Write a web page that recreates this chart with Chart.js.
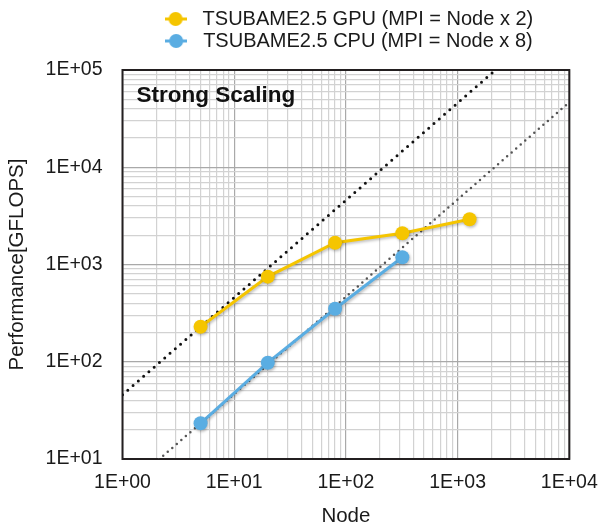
<!DOCTYPE html>
<html>
<head>
<meta charset="utf-8">
<script src="https://cdn.jsdelivr.net/npm/chart.js@4.4.0/dist/chart.umd.min.js"></script>
<style>
  html, body { margin: 0; padding: 0; background: #fff; }
  #wrap { width: 600px; height: 529px; }
</style>
</head>
<body>
<div id="wrap"><canvas id="myChart" width="600" height="529"></canvas></div>
<script>
// node counts (x) and measured performance (y, GFLOPS)
var nodes = [5, 20, 80, 320, 1280];
var gpuPerf = [229, 750, 1675, 2094, 2915];
var cpuPerf = [23.3, 97.8, 351, 1186];

// ideal scaling guides, read at the left and right plot edges
var idealX = [1, 10000];
var idealGpu = [45.8, 458000];
var idealCpu = [4.66, 46600];

// decade ticks and their labels
var xDecades = [1, 10, 100, 1000, 10000];
var xTickLabels = ['1E+00', '1E+01', '1E+02', '1E+03', '1E+04'];
var yDecades = [10, 100, 1000, 10000, 100000];
var yTickLabels = ['1E+01', '1E+02', '1E+03', '1E+04', '1E+05'];
var minorSteps = [1, 2, 3, 4, 5, 6, 7, 8, 9];

var gpuLabel = 'TSUBAME2.5 GPU (MPI = Node x 2)';
var cpuLabel = 'TSUBAME2.5 CPU (MPI = Node x 8)';

var YELLOW = '#f5c500';
var BLUE = '#5aade2';
var FONT = '"Liberation Sans", Arial, Helvetica, sans-serif';

function toPoints(xs, ys) {
    return ys.map(function (y, i) { return {x: xs[i], y: y}; });
}

// gridlines at 1..9 x every decade
function logTicks(decades) {
    return function (scale) {
        var t = [];
        decades.forEach(function (d, i) {
            if (i === decades.length - 1) { t.push({value: d}); return; }
            minorSteps.forEach(function (m) { t.push({value: d * m}); });
        });
        scale.ticks = t;
    };
}

function gridColor(decades) {
    return function (ctx) {
        if (ctx.tick && decades.indexOf(ctx.tick.value) >= 0) return '#a9a9a9';
        return '#d2d2d2';
    };
}

// legend marker: short line with a dot
function makeIcon(color) {
    var c = document.createElement('canvas');
    c.width = 22; c.height = 16;
    var g = c.getContext('2d');
    g.strokeStyle = color;
    g.lineWidth = 3;
    g.beginPath(); g.moveTo(0, 8); g.lineTo(22, 8); g.stroke();
    g.fillStyle = color;
    g.beginPath(); g.arc(11, 8, 7, 0, Math.PI * 2); g.fill();
    return c;
}
var icons = [makeIcon(YELLOW), makeIcon(BLUE)];

// plot frame and inner caption
var framePlugin = {
    id: 'frame',
    beforeDatasetsDraw: function (chart) {
        var a = chart.chartArea, ctx = chart.ctx;
        ctx.save();
        ctx.strokeStyle = '#231f20';
        ctx.lineWidth = 2;
        ctx.strokeRect(a.left, a.top, a.right - a.left, a.bottom - a.top);
        ctx.font = 'bold 22.5px ' + FONT;
        ctx.fillStyle = '#111';
        ctx.textBaseline = 'alphabetic';
        ctx.textAlign = 'left';
        ctx.fillText('Strong Scaling', a.left + 14, a.top + 32);
        ctx.restore();
    }
};

// soft shadow under the measured series
var shadowPlugin = {
    id: 'shadow',
    beforeDatasetDraw: function (chart, args) {
        if (args.index > 1) return;
        var ctx = chart.ctx;
        ctx.save();
        ctx.shadowColor = 'rgba(0,0,0,0.28)';
        ctx.shadowBlur = 3;
        ctx.shadowOffsetX = 1;
        ctx.shadowOffsetY = 1.5;
    },
    afterDatasetDraw: function (chart, args) {
        if (args.index > 1) return;
        chart.ctx.restore();
    }
};

Chart.defaults.font.family = FONT;
Chart.defaults.color = '#1a1a1a';

var ctx = document.getElementById('myChart').getContext('2d');
var myChart = new Chart(ctx, {
    type: 'line',
    data: {
        datasets: [
            {
                label: gpuLabel,
                data: toPoints(nodes, gpuPerf),
                borderColor: YELLOW,
                backgroundColor: YELLOW,
                borderWidth: 3,
                pointRadius: 7,
                pointBorderWidth: 0,
                pointBackgroundColor: YELLOW
            }, {
                label: cpuLabel,
                data: toPoints(nodes, cpuPerf),
                borderColor: BLUE,
                backgroundColor: BLUE,
                borderWidth: 3,
                pointRadius: 7,
                pointBorderWidth: 0,
                pointBackgroundColor: BLUE
            }, {
                label: 'ideal gpu',
                data: toPoints(idealX, idealGpu),
                borderColor: '#111',
                borderWidth: 3,
                borderDash: [0, 7],
                borderCapStyle: 'round',
                pointRadius: 0
            }, {
                label: 'ideal cpu',
                data: toPoints(idealX, idealCpu),
                borderColor: '#555',
                borderWidth: 2.5,
                borderDash: [0, 6],
                borderCapStyle: 'round',
                pointRadius: 0
            }
        ]
    },
    options: {
        responsive: false,
        animation: false,
        layout: {padding: {top: 7, right: 30.7, left: 0, bottom: 0}},
        plugins: {
            tooltip: {enabled: false},
            legend: {
                position: 'top',
                fullSize: false,
                labels: {
                    usePointStyle: true,
                    pointStyleWidth: 34,
                    padding: 2,
                    font: {size: 20},
                    color: '#1a1a1a',
                    filter: function (item) { return item.datasetIndex < 2; },
                    generateLabels: function (chart) {
                        var items = Chart.defaults.plugins.legend.labels.generateLabels(chart);
                        items.forEach(function (it) {
                            if (it.datasetIndex < 2) it.pointStyle = icons[it.datasetIndex];
                        });
                        return items;
                    }
                }
            }
        },
        scales: {
            x: {
                type: 'logarithmic',
                position: 'bottom',
                min: 1,
                max: 10000,
                afterBuildTicks: logTicks(xDecades),
                afterFit: function (s) { s.height = 70; s.paddingLeft = 0; s.paddingRight = 0; },
                grid: {color: gridColor(xDecades), lineWidth: 1.2, drawTicks: false},
                border: {display: false},
                ticks: {
                    autoSkip: false,
                    maxRotation: 0,
                    padding: 12,
                    font: {size: 19.5},
                    callback: function (value) {
                        var i = xDecades.indexOf(value);
                        return i >= 0 ? xTickLabels[i] : '';
                    }
                },
                title: {display: true, text: 'Node', font: {size: 20.5}, padding: {top: 0, bottom: 0}}
            },
            y: {
                type: 'logarithmic',
                position: 'left',
                min: 10,
                max: 100000,
                afterBuildTicks: logTicks(yDecades),
                afterFit: function (s) { s.width = 122.5; s.paddingTop = 0; s.paddingBottom = 0; },
                grid: {color: gridColor(yDecades), lineWidth: 1.2, drawTicks: false},
                border: {display: false},
                ticks: {
                    autoSkip: false,
                    padding: 20,
                    font: {size: 19.5},
                    callback: function (value) {
                        var i = yDecades.indexOf(value);
                        return i >= 0 ? yTickLabels[i] : '';
                    }
                },
                title: {display: true, text: 'Performance[GFLOPS]', font: {size: 20.5}, padding: {top: 5, bottom: 0}}
            },
            pad: {
                type: 'linear',
                position: 'top',
                display: true,
                grid: {display: false, drawTicks: false},
                border: {display: false},
                ticks: {display: false},
                afterFit: function (s) { s.height = 9; s.paddingLeft = 0; s.paddingRight = 0; }
            }
        }
    },
    plugins: [framePlugin, shadowPlugin]
});
</script>
</body>
</html>
